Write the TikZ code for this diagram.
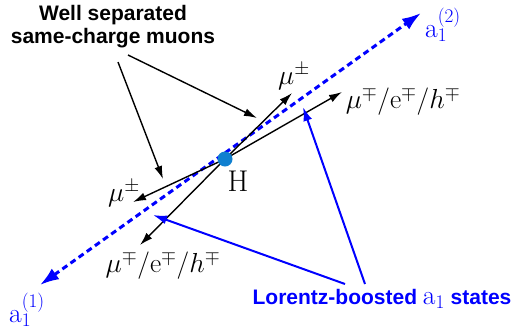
\RequirePackage{fix-cm}
\documentclass[tikz,border=0pt]{standalone}
\usepackage{fontspec}
\setsansfont{Liberation Sans}
\usetikzlibrary{arrows.meta}
\definecolor{hblue}{RGB}{16,128,208}
\begin{document}
\begin{tikzpicture}[x=1pt,y=-1pt,
  mlbl/.style={font=\fontsize{27.5}{30}\selectfont, inner sep=0pt},
  blbl/.style={font=\sffamily\bfseries\fontsize{21}{23}\selectfont, inner sep=0pt, align=center},
  arr/.style={line width=1.4pt, -{Latex[length=13pt,width=8pt]}},
  barr/.style={blue, line width=2pt, -{Latex[length=14pt,width=9pt]}},
  axis/.style={blue, line width=3pt, dash pattern=on 6pt off 4pt,
    {Latex[length=19pt,width=13pt]}-{Latex[length=19pt,width=13pt]}},
  ]
\useasboundingbox (0,0) rectangle (519,333);
% coordinates
\coordinate (H) at (225,159);
\coordinate (A1) at (40,285);
\coordinate (A2) at (421,13);
\coordinate (m1) at (292,93);
\coordinate (m2) at (342,92);
\coordinate (m3) at (133,202);
\coordinate (m4) at (140,245);
\coordinate (w1) at (118,62);
\coordinate (w2) at (128,55);
\coordinate (t1) at (163,179);
\coordinate (t2) at (257,118);
\coordinate (b1) at (345,284);
\coordinate (b2) at (365,284);
\coordinate (s1) at (153,215);
\coordinate (s2) at (303,107);
% axis
\draw[axis] (A1) -- (A2);
% decay products
\draw[arr] (H) -- (m1);
\draw[arr] (H) -- (m2);
\draw[arr] (H) -- (m3);
\draw[arr] (H) -- (m4);
% vertex
\node[circle, fill=hblue, minimum size=15pt, inner sep=0pt] (Hdot) at (H) {};
% labels
\node[mlbl, font=\fontsize{30}{32}\selectfont] (lH) at (238,181) {H};
\node[mlbl] (lm1) at (294,77) {$\mu^{\pm}$};
\node[mlbl] (lm2) at (403,101) {$\mu^{\mp}/\mathrm{e}^{\mp}/h^{\mp}$};
\node[mlbl] (lm3) at (124,194) {$\mu^{\pm}$};
\node[mlbl] (lm4) at (163,265) {$\mu^{\mp}/\mathrm{e}^{\mp}/h^{\mp}$};
\node[mlbl, text=blue] (la2) at (443,25) {$\mathrm{a}_1^{(2)}$};
\node[mlbl, text=blue] (la1) at (27,310) {$\mathrm{a}_1^{(1)}$};
\node[blbl] (well) at (113,27) {Well separated\\same-charge muons};
\node[blbl, text=blue] (lor) at (382,299) {Lorentz-boosted {\fontsize{27.5}{30}\selectfont$\mathrm{a}_1$} states};
% pointers
\draw[arr] (w1) -- (t1);
\draw[arr] (w2) -- (t2);
\draw[barr] (b1) -- (s1);
\draw[barr] (b2) -- (s2);
\end{tikzpicture}
\end{document}
